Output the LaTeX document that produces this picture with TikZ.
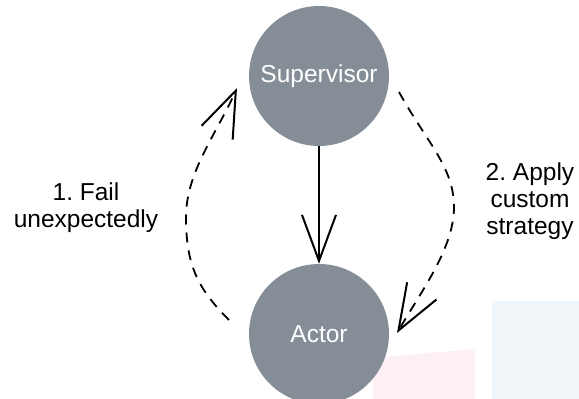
\documentclass[tikz,border=0pt]{standalone}
\usepackage{fontspec}
\setmainfont{Liberation Sans}
\usetikzlibrary{arrows.meta}
\definecolor{nodegray}{RGB}{133,142,151}
\definecolor{blushpink}{RGB}{252,240,246}
\definecolor{paleblue}{RGB}{240,245,250}

\begin{document}
\frenchspacing
\begin{tikzpicture}[x=1pt, y=1pt,
		state/.style={circle, fill=nodegray, minimum size=140pt, inner sep=0pt, text=white, font=\fontsize{24.5}{27}\selectfont},
		caption/.style={align=center, font=\fontsize{24.5}{27}\selectfont},
		barb/.style={-{Straight Barb[length=46pt, width=34pt, line width=2pt]}, line width=2pt},
		dashline/.style={dash pattern=on 10pt off 8pt, line width=1.8pt}]
		\useasboundingbox(0, 0) rectangle (579, 399);
		\clip(0, 0) rectangle (579, 399);

		% faint patches behind the actor
		\fill[paleblue](492, 0) rectangle (579, 98);
		\fill[blushpink](373, 0) -- (373, 41) -- (475, 50) -- (475, 0) -- cycle;

		\node[state] (supervisor) at(319, 323){Supervisor};
		\node[state] (actor) at(319, 65){Actor};

		\draw[barb](supervisor) -- (actor);

		\coordinate (failfrom) at(229, 79);
		\coordinate (failbend) at(186, 182);
		\coordinate (failto) at(237, 311);
		\coordinate (applyfrom) at(399, 307);
		\coordinate (applybend) at(454, 192);
		\coordinate (applyto) at(397, 66);

		% both dashed edges bend through one point each
		\draw[barb, dashline](failfrom) .. controls (197.5, 110.5) and (186, 134) .. (failbend)
			.. controls (186, 227) and (217, 266) .. (failto);
		\draw[barb, dashline](applyfrom) .. controls (426.5, 257) and (454, 232) .. (applybend)
			.. controls (454, 152) and (423.5, 111) .. (applyto);

		\node[caption] (fail) at(86, 191){1. Fail\\unexpectedly};
		\node[caption] (apply) at(530, 198){2. Apply\\custom\\strategy};
	\end{tikzpicture}
\end{document}
